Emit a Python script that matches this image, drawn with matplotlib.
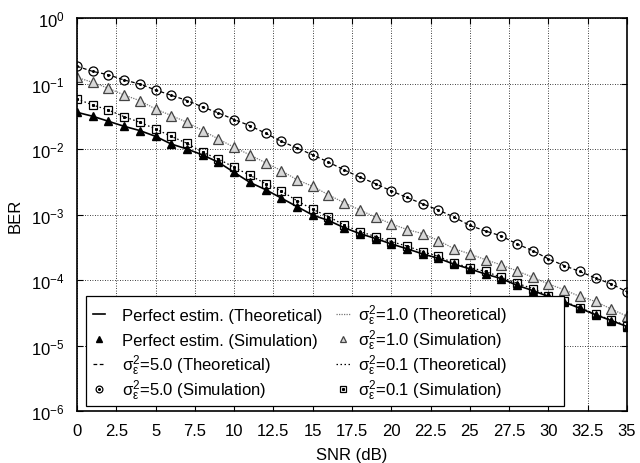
import numpy as np
import matplotlib
matplotlib.use("Agg")
import matplotlib.pyplot as plt
from matplotlib.patches import Rectangle
from matplotlib.ticker import LogLocator, NullLocator, FixedLocator, FixedFormatter

plt.rcParams['font.family'] = ['Liberation Sans', 'DejaVu Sans']
plt.rcParams['mathtext.fontset'] = 'custom'
plt.rcParams['mathtext.rm'] = 'Liberation Sans'
plt.rcParams['mathtext.it'] = 'Liberation Sans'
plt.rcParams['mathtext.default'] = 'regular'
plt.rcParams['font.size'] = 12

snr = list(range(0, 36))

ber_perfect = [0.0363, 0.0316, 0.0265, 0.0222, 0.0191, 0.0156, 0.0119, 0.0100, 0.0081, 0.00627,
               0.0044, 0.00309, 0.0024, 0.00178, 0.00132, 9.8e-4, 8.1e-4, 6.3e-4, 5.1e-4, 4.3e-4,
               3.55e-4, 3.0e-4, 2.5e-4, 2.14e-4, 1.74e-4, 1.48e-4, 1.23e-4, 1.05e-4, 8.3e-5, 6.9e-5,
               5.6e-5, 4.6e-5, 3.7e-5, 2.95e-5, 2.4e-5, 1.95e-5]

ber_s50 = [0.183, 0.153, 0.136, 0.113, 0.0982, 0.0796, 0.0661, 0.055, 0.0437, 0.0355,
           0.0282, 0.0227, 0.0174, 0.0131, 0.01035, 0.00813, 0.00631, 0.00479, 0.00372, 0.00295,
           0.00229, 0.00182, 0.00145, 0.00117, 9.1e-4, 6.8e-4, 5.6e-4, 4.7e-4, 3.55e-4, 2.8e-4,
           2.1e-4, 1.66e-4, 1.35e-4, 1.07e-4, 8.7e-5, 6.6e-5]

ber_s10 = [0.124, 0.104, 0.0845, 0.0667, 0.0547, 0.0408, 0.0324, 0.0256, 0.0191, 0.0142,
           0.0106, 0.00813, 0.00617, 0.00468, 0.00339, 0.00269, 0.0020, 0.00151, 0.00117, 9.1e-4,
           7.2e-4, 5.9e-4, 5.1e-4, 4.0e-4, 3.0e-4, 2.5e-4, 2.04e-4, 1.7e-4, 1.38e-4, 1.1e-4,
           8.7e-5, 7.1e-5, 5.6e-5, 4.7e-5, 3.6e-5, 2.8e-5]

ber_s01 = [0.058, 0.047, 0.0394, 0.0311, 0.0256, 0.0202, 0.0156, 0.0122, 0.0089, 0.00703,
           0.00525, 0.00398, 0.00295, 0.00229, 0.00162, 0.0012, 9.3e-4, 6.9e-4, 5.5e-4, 4.6e-4,
           3.85e-4, 3.3e-4, 2.7e-4, 2.3e-4, 1.8e-4, 1.55e-4, 1.35e-4, 1.1e-4, 8.9e-5, 7.4e-5,
           5.75e-5, 4.7e-5, 3.8e-5, 3.0e-5, 2.45e-5, 2.0e-5]

xticks = [0, 2.5, 5, 7.5, 10, 12.5, 15, 17.5, 20, 22.5, 25, 27.5, 30, 32.5, 35]
xticklabels = ['0', '2.5', '5', '7.5', '10', '12.5', '15', '17.5', '20', '22.5', '25', '27.5', '30', '32.5', '35']

labels = ['Perfect estim. (Theoretical)', 'Perfect estim. (Simulation)',
          r'$σ_ε^2$=5.0 (Theoretical)', r'$σ_ε^2$=5.0 (Simulation)',
          r'$σ_ε^2$=1.0 (Theoretical)', r'$σ_ε^2$=1.0 (Simulation)',
          r'$σ_ε^2$=0.1 (Theoretical)', r'$σ_ε^2$=0.1 (Simulation)']

W, H = 640, 464
fig = plt.figure(figsize=(6.4, 4.64), dpi=100)
AX_L, AX_R, AX_T, AX_B = 77, 627, 19, 412
ax = fig.add_axes([AX_L / W, 1 - AX_B / H, (AX_R - AX_L) / W, (AX_B - AX_T) / H])

gray = '#444444'
line_styles = {
    'perfect': dict(color='k', lw=1.2, ls='-'),
    's50': dict(color='k', lw=0.9, dashes=(3, 2)),
    's10': dict(color='#777777', lw=0.9, dashes=(1, 1)),
    's01': dict(color='k', lw=0.9, dashes=(1.2, 2)),
}
marker_styles = {
    'perfect': [dict(marker='^', color='k', ms=5.5)],
    's50': [dict(marker='o', mfc='none', mec='k', ms=6.5, mew=0.9), dict(marker='o', color='k', ms=1.2)],
    's10': [dict(marker='^', mfc='#d8d8d8', mec=gray, ms=6.5, mew=0.9)],
    's01': [dict(marker='s', mfc='none', mec='k', ms=6.3, mew=0.9), dict(marker='s', color='k', ms=1.2)],
}
series = {'perfect': ber_perfect, 's50': ber_s50, 's10': ber_s10, 's01': ber_s01}

for key, vals in series.items():
    ax.semilogy(snr, vals, **line_styles[key])
for key, vals in series.items():
    for ms in marker_styles[key]:
        ax.semilogy(snr, vals, ls='none', **ms)

ax.set_xlim(0, 35)
ax.set_ylim(1e-6, 1)
ax.xaxis.set_major_locator(FixedLocator(xticks))
ax.xaxis.set_major_formatter(FixedFormatter(xticklabels))
ax.yaxis.set_major_locator(LogLocator(base=10, numticks=10))
ax.yaxis.set_minor_locator(NullLocator())
ax.xaxis.set_minor_locator(NullLocator())
ax.tick_params(direction='in', top=True, right=True, length=4, width=0.8, labelsize=12, pad=9)
ax.grid(True, which='major', color='k', lw=0.6, ls=(0, (1, 2)))
for s in ax.spines.values():
    s.set_linewidth(1.2)

ax.set_xlabel('SNR (dB)', fontsize=12, labelpad=6)
ax.set_ylabel('BER', fontsize=12, labelpad=6)

# ---- manual legend (gnuplot-style key with uniform row pitch) ----
def px2ax(px, py):
    return ((px - AX_L) / (AX_R - AX_L), (AX_B - py) / (AX_B - AX_T))

x0, y0 = px2ax(86, 407)
x1, y1 = px2ax(564, 297)
ax.add_patch(Rectangle((x0, y0), x1 - x0, y1 - y0, transform=ax.transAxes,
                       facecolor='white', edgecolor='k', lw=0.9, zorder=5, clip_on=False))

entries = [('perfect', 'line'), ('perfect', 'marker'), ('s50', 'line'), ('s50', 'marker'),
           ('s10', 'line'), ('s10', 'marker'), ('s01', 'line'), ('s01', 'marker')]
row_y = [315, 340, 365, 389.5]
col_handle = [(93, 105), (336, 350)]
col_text = [122, 358]
for i, ((key, kind), lab) in enumerate(zip(entries, labels)):
    col, row = divmod(i, 4)
    hx0, hx1 = col_handle[col]
    yc = row_y[row]
    if kind == 'line':
        a0 = px2ax(hx0, yc)
        a1 = px2ax(hx1, yc)
        ax.plot([a0[0], a1[0]], [a0[1], a1[1]], transform=ax.transAxes, clip_on=False,
                zorder=6, **line_styles[key])
    else:
        c = px2ax((hx0 + hx1) / 2, yc)
        for ms in marker_styles[key]:
            ms2 = dict(ms)
            ms2['ms'] = ms['ms'] * (0.75 if ms['ms'] > 2 else 1.0)
            ax.plot([c[0]], [c[1]], ls='none', transform=ax.transAxes, clip_on=False,
                    zorder=6, **ms2)
    t = px2ax(col_text[col], yc + 6)
    ax.text(t[0], t[1], lab, transform=ax.transAxes, ha='left', va='baseline',
            fontsize=12, zorder=7)

fig.savefig('out.png', dpi=100)
